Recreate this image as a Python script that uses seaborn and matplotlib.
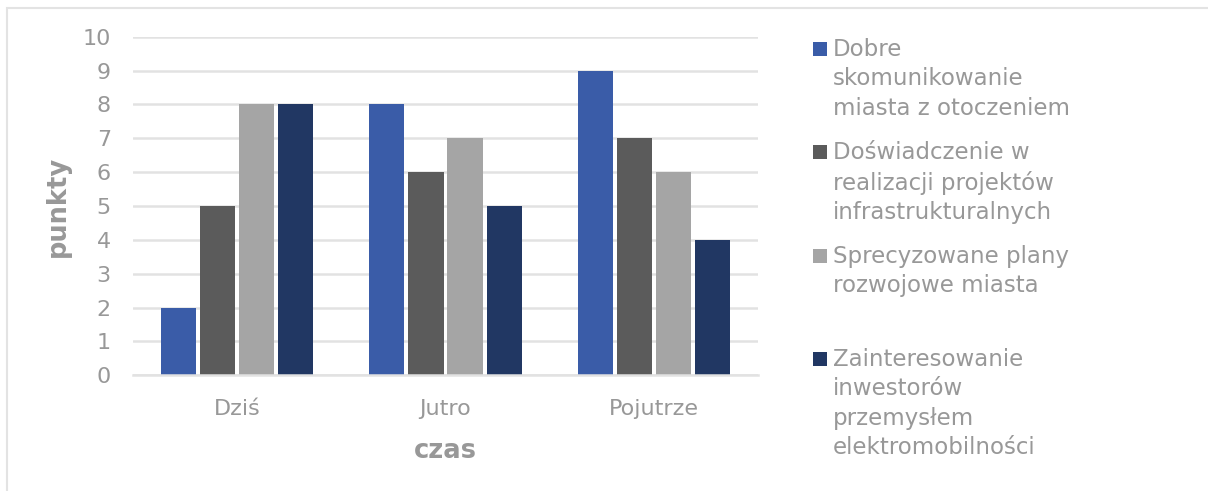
import pandas as pd
import matplotlib.pyplot as plt
import seaborn as sns
from matplotlib.patches import Rectangle

# === Data ===
categories = ["Dziś", "Jutro", "Pojutrze"]
series_names = [
    "Dobre\nskomunikowanie\nmiasta z otoczeniem",
    "Doświadczenie w\nrealizacji projektów\ninfrastrukturalnych",
    "Sprecyzowane plany\nrozwojowe miasta",
    "Zainteresowanie\ninwestorów\nprzemysłem\nelektromobilności",
]
values_dobre = [2, 8, 9]
values_doswiadczenie = [5, 6, 7]
values_plany = [8, 7, 6]
values_inwestorzy = [8, 5, 4]
colors = ["#3A5CA8", "#5B5B5B", "#A5A5A5", "#213763"]

series_values = [values_dobre, values_doswiadczenie, values_plany, values_inwestorzy]
rows = []
for name, vals in zip(series_names, series_values):
    for cat, v in zip(categories, vals):
        rows.append({"czas": cat, "punkty": v, "seria": name})
df = pd.DataFrame(rows)

W, H = 1208, 491
text_col = "#989898"
grid_col = "#E2E2E2"

sns.set_style("white")
plt.rcParams["font.family"] = ["DejaVu Sans"]

fig = plt.figure(figsize=(W / 100, H / 100), dpi=100)
ax = fig.add_axes([133 / W, 1 - 375.3 / H, (758 - 133) / W, (375.3 - 36.7) / H])

sns.barplot(data=df, x="czas", y="punkty", hue="seria", order=categories,
            hue_order=series_names, palette=colors, width=0.75, gap=0.1,
            saturation=1, legend=False, linewidth=0, edgecolor="none", ax=ax)

ax.set_xlim(-0.5, 2.5)
ax.set_ylim(0, 10)
ax.set_yticks(range(0, 11))
ax.grid(axis="y", color=grid_col, linewidth=1.8)
ax.set_axisbelow(True)
for s in ["top", "right", "left"]:
    ax.spines[s].set_visible(False)
ax.spines["bottom"].set_color(grid_col)
ax.spines["bottom"].set_linewidth(1.8)
ax.tick_params(axis="both", length=0, labelsize=16, labelcolor=text_col)
ax.tick_params(axis="y", pad=16)
ax.tick_params(axis="x", pad=17)
ax.set_xlabel("czas", fontsize=18.5, fontweight="bold", color=text_col, labelpad=14)
ax.set_ylabel("punkty", fontsize=18.5, fontweight="bold", color=text_col, labelpad=8)

# === Legend drawn to the right, entries on equal slots ===
baselines = [57, 160, 264, 367]
for name, col, yb in zip(series_names, colors, baselines):
    fig.add_artist(Rectangle((813 / W, 1 - (yb - 1) / H), 14 / W, 14 / H,
                             transform=fig.transFigure, color=col, lw=0))
    fig.text(833 / W, 1 - (yb - 19) / H, name, fontsize=16.5, color=text_col,
             va="top", ha="left", linespacing=1.36)

# outer chart border (right and bottom edges fall outside the image)
fig.add_artist(Rectangle((7 / W, 1 - 500 / H), 1210 / W, 492 / H,
                         transform=fig.transFigure, fill=False,
                         edgecolor="#E3E3E3", lw=1.5))

fig.savefig("out.png", dpi=100)
